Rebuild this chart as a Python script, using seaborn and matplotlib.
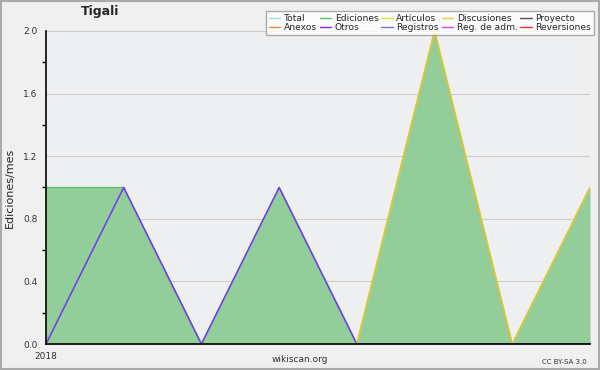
import matplotlib
matplotlib.use("Agg")
import matplotlib.pyplot as plt
import numpy as np
import pandas as pd
import seaborn as sns
from matplotlib.lines import Line2D
from matplotlib.patches import Rectangle

# monthly edits, 2018-01 .. 2018-08
months = ["2018-01", "2018-02", "2018-03", "2018-04",
          "2018-05", "2018-06", "2018-07", "2018-08"]
ediciones = [1, 1, 0, 1, 0, 2, 0, 1]
otros = [0, 1, 0, 1, 0, 0, 0, 0]
discusiones = [0, 0, 0, 0, 0, 2, 0, 1]

legend_names = ["Total", "Ediciones", "Artículos", "Discusiones", "Proyecto",
                "Anexos", "Otros", "Registros", "Reg. de adm.", "Reversiones"]
legend_colors = ["#9ee3e3", "#5cbf62", "#c8ef3a", "#ffcc22", "#555555",
                 "#ff8040", "#8a2be2", "#7070ff", "#e040e0", "#ff3030"]

df = pd.DataFrame({"pos": np.arange(len(months)), "month": months,
                   "ediciones": ediciones, "otros": otros,
                   "discusiones": discusiones})

sns.set_style("white")
plt.rcParams['font.family'] = ['DejaVu Sans']

fig = plt.figure(figsize=(6, 3.7), dpi=100, facecolor="#f0f0f0")
ax = fig.add_axes([46 / 600, 26 / 370, 544 / 600, 313 / 370])
ax.set_facecolor("#eeeff1")

# area of all edits
ax.fill_between(df["pos"], df["ediciones"], color="#93cd99", lw=0, zorder=2)
sns.lineplot(data=df, x="pos", y="ediciones", ax=ax, color="#5cbf62", lw=0.9, zorder=3)
sns.lineplot(data=df, x="pos", y="otros", ax=ax, color="#8a2be2", lw=1.1, zorder=4)
sns.lineplot(data=df, x="pos", y="otros", ax=ax, color="#4060ff", lw=0.4, zorder=5)
sns.lineplot(data=df, x="pos", y="discusiones", ax=ax, color="#ffcc22", lw=1.1, zorder=4)
sns.lineplot(data=df, x="pos", y="discusiones", ax=ax, color="#c8c040", lw=0.4, zorder=5)

ax.set_xlim(0, len(months) - 1)
ax.set_ylim(0, 2.0)
ax.set_yticks([0.0, 0.4, 0.8, 1.2, 1.6, 2.0])
ax.set_yticklabels(["0.0", "0.4", "0.8", "1.2", "1.6", "2.0"], fontsize=6.5, color="#333333")
ax.set_yticks(np.arange(0.2, 2.0, 0.4), minor=True)
ax.set_xticks(df["pos"])
ax.set_xticklabels(["2018"] + [""] * (len(months) - 1), fontsize=6.5, color="#333333")
ax.tick_params(axis="both", which="major", direction="out", length=5, width=1, color="black", pad=1)
ax.tick_params(axis="y", which="minor", direction="out", length=3, width=1, color="black", left=True)
ax.yaxis.grid(True, color="#cccccc", lw=0.8, zorder=1)
ax.set_axisbelow(True)

for s in ["top", "right"]:
    ax.spines[s].set_visible(False)
for s in ["left", "bottom"]:
    ax.spines[s].set_color("black")
    ax.spines[s].set_linewidth(1.2)
    ax.spines[s].set_zorder(6)

ax.set_xlabel("")
ax.set_ylabel("Ediciones/mes", fontsize=8, labelpad=6)

fig.text(100 / 600, 1 - 12 / 370, "Tigali", fontsize=9, fontweight="bold", ha="center", va="center")
fig.text(300 / 600, 1 - 359 / 370, "wikiscan.org", fontsize=6.5, ha="center", va="center", color="#333333")
fig.text(587 / 600, 1 - 362 / 370, "CC BY-SA 3.0", fontsize=5, ha="right", va="center", color="#333333")

# legend, filled column by column
order = [0, 5, 1, 6, 2, 7, 3, 8, 4, 9]
handles = [Line2D([], [], color=legend_colors[i], lw=1) for i in order]
labels = [legend_names[i] for i in order]
leg = fig.legend(handles, labels, ncol=5, loc="upper right",
                 bbox_to_anchor=(594 / 600, 1 - 11 / 370), fontsize=6.6,
                 frameon=True, fancybox=False, edgecolor="#999999",
                 handlelength=1.3, handletextpad=0.35, columnspacing=0.3,
                 labelspacing=0.0, borderpad=0.3, borderaxespad=0)
leg.get_frame().set_linewidth(1)

fig.patches.append(Rectangle((0.002, 0.003), 0.996, 0.994, transform=fig.transFigure,
                             fill=False, edgecolor="#aaaaaa", lw=1.5))

fig.savefig("out.png", dpi=100, facecolor=fig.get_facecolor())
